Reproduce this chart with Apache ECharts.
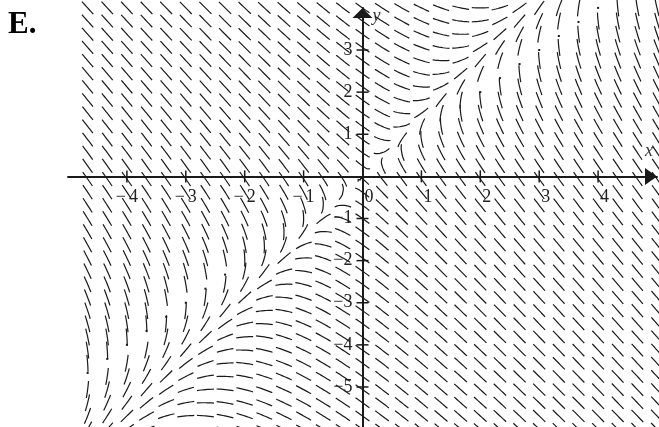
<!DOCTYPE html>
<html>
<head>
<meta charset="utf-8">
<script src="https://cdn.jsdelivr.net/npm/echarts@6/dist/echarts.min.js"></script>
<style>
html, body { margin: 0; background: #fff; }
#main { width: 659px; height: 427px; }
</style>
</head>
<body>
<div id="main"></div>
<script>
// grid of the direction field
var fieldX = [-4.6667, -4.3333, -4, -3.6667, -3.3333, -3, -2.6667, -2.3333, -2, -1.6667,
    -1.3333, -1, -0.6667, -0.3333, 0, 0.3333, 0.6667, 1, 1.3333, 1.6667,
    2, 2.3333, 2.6667, 3, 3.3333, 3.6667, 4, 4.3333, 4.6667, 5];
var fieldY = [-6, -5.6875, -5.375, -5.0625, -4.75, -4.4375, -4.125, -3.8125, -3.5, -3.1875,
    -2.875, -2.5625, -2.25, -1.9375, -1.625, -1.3125, -1, -0.6875, -0.375, -0.0625,
    0.25, 0.5625, 0.875, 1.1875, 1.5, 1.8125, 2.125, 2.4375, 2.75, 3.0625,
    3.375, 3.6875, 4];
var xTicks = [-4, -3, -2, -1, 1, 2, 3, 4];
var yTicks = [-5, -4, -3, -2, -1, 1, 2, 3];
var xTickLabels = [-4, -3, -2, -1, 0, 1, 2, 3, 4];
var yTickLabels = [-5, -4, -3, -2, -1, 1, 2, 3];

// dy/dx = (y - 2x) / (x - y), written as a direction (dx, dy)
function fieldDir(x, y) {
    return [x - y, y - 2 * x];
}

var points = [];
fieldX.forEach(function (x) {
    fieldY.forEach(function (y) {
        points.push([x, y]);
    });
});

// [x, y, kind]  kind 0 = x tick, 1 = y tick
var tickData = xTicks.map(function (v) { return [v, 0, 0]; })
    .concat(yTicks.map(function (v) { return [0, v, 1]; }));
var labelData = xTickLabels.map(function (v) { return [v, 0, 0]; })
    .concat(yTickLabels.map(function (v) { return [0, v, 1]; }));

var serif = 'Liberation Serif';
var ink = '#1a1a1a';
var labelFont = '18px "Liberation Serif"';

function trace(api, x, y, sign, halfLen) {
    var s = api.size([1, 1]);
    var out = [];
    var steps = 4;
    var h = halfLen / steps;
    for (var k = 0; k < steps; k++) {
        var d = fieldDir(x, y);
        var vx = d[0] * s[0], vy = d[1] * s[1];
        var n = Math.sqrt(vx * vx + vy * vy);
        if (!n) break;
        x += sign * vx / n * h / s[0];
        y += sign * vy / n * h / s[1];
        out.push(api.coord([x, y]));
    }
    return out;
}

function renderField(params, api) {
    var x = api.value(0), y = api.value(1);
    // near the singular line y = x the plotter leaves only a dot
    if (Math.abs(y - x) < 0.15 && (x > 1.8 || x < -2.2)) {
        var p = api.coord([x, x]);
        return {
            type: 'rect',
            shape: { x: p[0] - 1, y: p[1] - 1, width: 2, height: 2 },
            style: { fill: ink }
        };
    }
    var c = api.coord([x, y]);
    var back = trace(api, x, y, -1, 8.5).reverse();
    var fwd = trace(api, x, y, 1, 8.5);
    return {
        type: 'polyline',
        shape: { points: back.concat([c], fwd) },
        style: { stroke: ink, lineWidth: 1.2, fill: null }
    };
}

function renderTick(params, api) {
    var p = api.coord([api.value(0), api.value(1)]);
    var vert = api.value(2) === 0;
    return {
        type: 'line',
        shape: vert ? { x1: p[0], y1: p[1] - 6, x2: p[0], y2: p[1] + 6 }
                    : { x1: p[0] - 6, y1: p[1], x2: p[0] + 6, y2: p[1] },
        style: { stroke: ink, lineWidth: 1.5 }
    };
}

function renderLabel(params, api) {
    var v = api.value(2) === 0 ? api.value(0) : api.value(1);
    var p = api.coord([api.value(0), api.value(1)]);
    var children = [];
    if (api.value(2) === 0) {
        children.push({
            type: 'text', x: p[0] + 2, y: p[1] + 12,
            style: { text: String(Math.abs(v)), font: labelFont, fill: '#222', align: 'left', verticalAlign: 'top' }
        });
        if (v < 0) {
            children.push({
                type: 'text', x: p[0] - 1, y: p[1] + 12,
                style: { text: '\u2212', font: labelFont, fill: '#222', align: 'right', verticalAlign: 'top' }
            });
        }
    } else {
        children.push({
            type: 'text', x: p[0] - 10, y: p[1],
            style: { text: (v < 0 ? '\u2212' : '') + Math.abs(v), font: labelFont, fill: '#222', align: 'right', verticalAlign: 'middle' }
        });
    }
    return { type: 'group', children: children };
}

var myChart = echarts.init(document.getElementById('main'));

var option = {
    animation: false,
    title: {
        text: 'E.',
        left: 8,
        top: 9,
        padding: 0,
        textStyle: { fontFamily: serif, fontWeight: 'bold', fontSize: 31, color: '#000' }
    },
    grid: { left: 68, right: 2, top: 7.9, bottom: -2.1, outerBoundsMode: 'none', containLabel: false },
    xAxis: {
        type: 'value',
        min: -5,
        max: 5,
        interval: 1,
        name: 'x',
        nameLocation: 'end',
        nameGap: -4,
        nameTextStyle: {
            fontFamily: serif, fontStyle: 'italic', fontSize: 18, color: '#333',
            align: 'right', verticalAlign: 'bottom', padding: [0, 0, 16, 0]
        },
        axisLine: {
            onZero: true,
            lineStyle: { color: ink, width: 2 },
            symbol: ['none', 'triangle'],
            symbolSize: [17, 12],
            symbolOffset: [0, -6]
        },
        axisTick: { show: false },
        splitLine: { show: false },
        axisLabel: { show: false }
    },
    yAxis: {
        type: 'value',
        min: -6,
        max: 4,
        interval: 1,
        name: 'y',
        nameLocation: 'end',
        nameGap: 1,
        nameTextStyle: {
            fontFamily: serif, fontStyle: 'italic', fontSize: 18, color: '#333',
            align: 'left', verticalAlign: 'top', padding: [0, 0, 0, 10]
        },
        axisLine: {
            onZero: true,
            lineStyle: { color: ink, width: 2 },
            symbol: ['none', 'triangle'],
            symbolSize: [20, 10],
            symbolOffset: [0, -5]
        },
        axisTick: { show: false },
        splitLine: { show: false },
        axisLabel: { show: false }
    },
    series: [
        {
            type: 'custom',
            renderItem: renderField,
            data: points,
            silent: true,
            z: 1
        },
        {
            type: 'custom',
            renderItem: renderTick,
            data: tickData,
            silent: true,
            z: 3
        },
        {
            type: 'custom',
            renderItem: renderLabel,
            data: labelData,
            silent: true,
            z: 4
        }
    ]
};

myChart.setOption(option);
</script>
</body>
</html>
